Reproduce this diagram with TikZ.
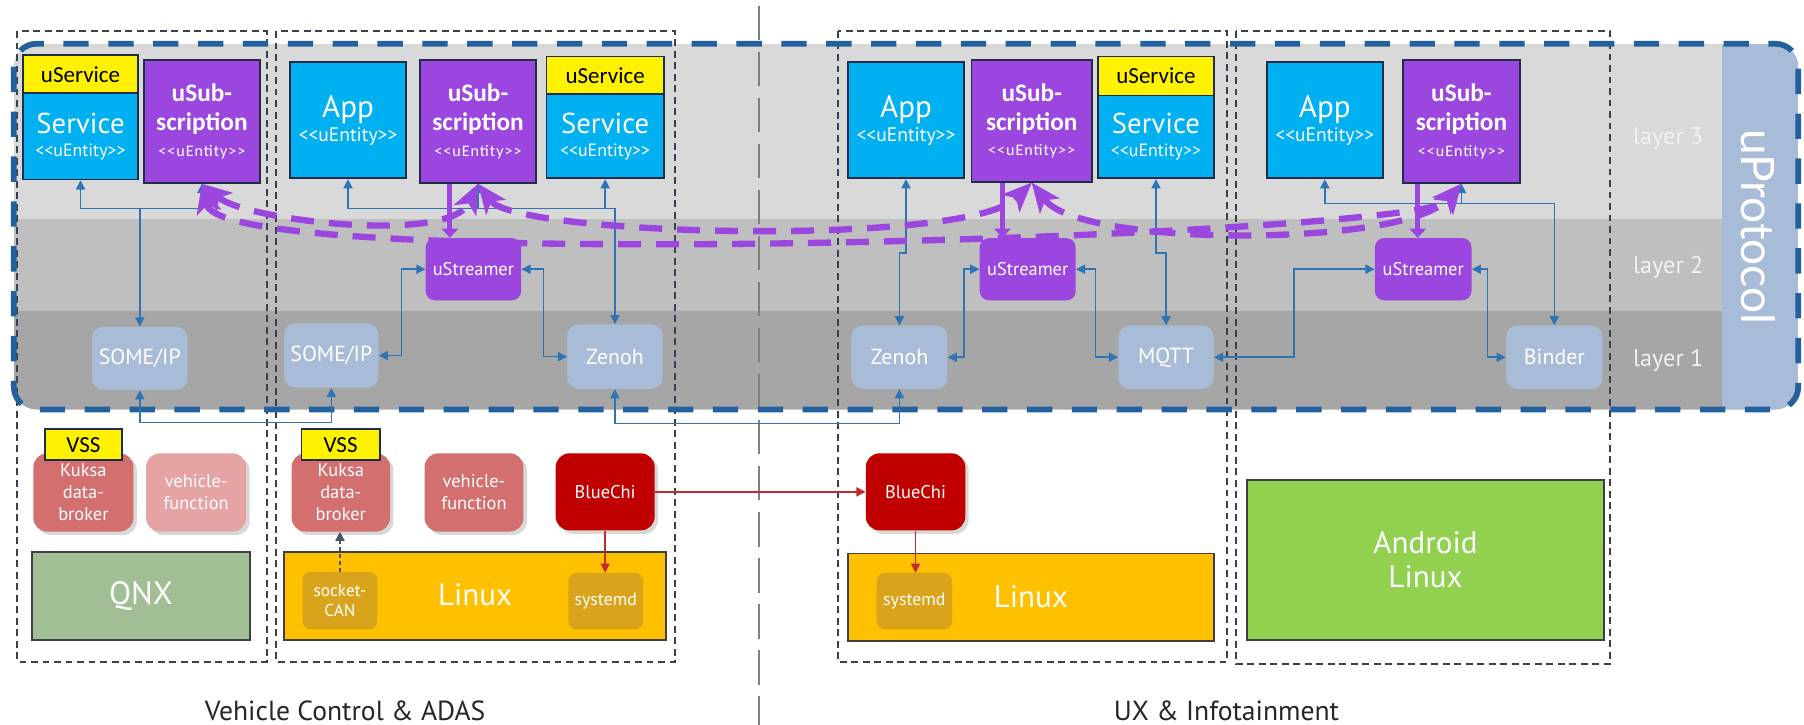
\documentclass[tikz,border=0pt]{standalone}
\usepackage{fontspec}
\setmainfont{PT Sans}
\newfontfamily\calfont{Carlito}
\newfontfamily\latofont{Lato}
\usetikzlibrary{arrows.meta,shadows,calc}
\definecolor{pu}{HTML}{9B47DF}
\definecolor{cy}{HTML}{00B0F0}
\definecolor{navy}{HTML}{1F2D4A}
\definecolor{bc}{HTML}{2E75B6}
\definecolor{bd}{HTML}{23609E}
\definecolor{protoc}{HTML}{A9BCD7}
\definecolor{lay3}{HTML}{D9D9D9}
\definecolor{lay2}{HTML}{BFBFBF}
\definecolor{lay1}{HTML}{A6A6A6}
\definecolor{kuk}{HTML}{D36F6F}
\definecolor{vfl}{HTML}{E6A3A3}
\definecolor{bluechi}{HTML}{C00000}
\definecolor{redar}{HTML}{C8282D}
\definecolor{linuxc}{HTML}{FFC000}
\definecolor{goldd}{HTML}{D9A31C}
\definecolor{qnxc}{HTML}{A2BE95}
\definecolor{andc}{HTML}{92D050}
\definecolor{osb}{HTML}{3F3F46}
\definecolor{framec}{HTML}{3A404C}
\definecolor{divc}{HTML}{7F7F7F}
\definecolor{capc}{HTML}{262626}
\definecolor{sockc}{HTML}{44546A}
\definecolor{labc}{HTML}{F2F2F2}
\newcommand\fsz[2]{\fontsize{#1}{#2}\selectfont}
\newcommand\ue{<{}<uEntity>{}>}
\newcommand\mkbox[7]{%
  \pgfmathsetmacro\mkX{(#3+#5)/2}%
  \pgfmathsetmacro\mkY{(#4+#6)/2}%
  \pgfmathsetmacro\mkW{#5-#3}%
  \pgfmathsetmacro\mkH{#6-#4}%
  \node[#2, minimum width=\mkW pt, minimum height=\mkH pt] (#1) at (\mkX,\mkY) {#7};}
\begin{document}
\begin{tikzpicture}[x=1pt,y=-1pt,
  >={Triangle[length=8pt,width=8pt]},
  base/.style={inner sep=0pt, align=center, text=white},
  bbox/.style={base, fill=cy, draw=navy, line width=1.5pt},
  pbox/.style={base, fill=pu, draw=navy, line width=1.5pt},
  ybox/.style={base, fill=yellow, draw=navy, line width=1.5pt, text=black},
  strm/.style={base, fill=pu, rounded corners=8pt},
  proto/.style={base, fill=protoc, rounded corners=10pt},
  shad/.style={drop shadow={opacity=0.3, shadow xshift=3pt, shadow yshift=-3pt}},
  kbox/.style={base, fill=kuk, rounded corners=12pt, shad, font=\fsz{16}{19}},
  osbox/.style={base, draw=osb, line width=1.5pt},
  sbox/.style={base, fill=goldd, rounded corners=7pt},
  frame/.style={draw=framec, line width=1.8pt, dash pattern=on 6pt off 4pt},
  bl/.style={draw=bc, line width=1.3pt},
  rd/.style={draw=redar, line width=1.4pt},
  svcf/.style={font=\fsz{25}{24}},
  appf/.style={font=\fsz{27}{24}},
  subf/.style={font=\calfont\bfseries\fsz{22}{25}},
  pua/.style={draw=pu, line width=4.5pt, -{Triangle[length=8pt,width=14pt]}},
  parc/.style={draw=pu, line width=5.5pt, dash pattern=on 20pt off 13pt,
     {Stealth[length=26pt,width=22pt,inset=7pt,line width=0.5pt]}-{Stealth[length=26pt,width=22pt,inset=7pt,line width=0.5pt]}},
  ]
\useasboundingbox (0,0) rectangle (1568,630);
\fill[white] (0,0) rectangle (1568,630);
% layer backgrounds
\begin{scope}
\clip[rounded corners=20pt] (12,38) rectangle (1563,356);
\fill[lay3] (12,38) rectangle (1497,190);
\fill[lay2] (12,190) rectangle (1497,270);
\fill[lay1] (12,270) rectangle (1497,356);
\fill[protoc] (1497,38) rectangle (1563,356);
\end{scope}
% zone frames and divider
\draw[frame] (15,27) rectangle (232,575);
\draw[frame] (240,27) rectangle (587,575);
\draw[frame] (728,27) rectangle (1066.5,575);
\draw[frame] (1074,27) rectangle (1399.5,577);
\draw[divc, line width=2.2pt, dash pattern=on 30pt off 10pt] (659.5,5) -- (659.5,630);
\draw[bd, line width=5pt, dash pattern=on 22pt off 17pt, rounded corners=20pt] (12,38) rectangle (1563,356);
% labels
\node[text=labc, font=\fsz{21}{24}] (l3) at (1450,120) {layer 3};
\node[text=labc, font=\fsz{21}{24}] (l2) at (1450,232) {layer 2};
\node[text=labc, font=\fsz{21}{24}] (l1) at (1450,313) {layer 1};
\node[text=white, font=\latofont\fsz{40}{44}, rotate=-90] (upr) at (1528,197) {uProtocol};
% layer 3 boxes
\mkbox{svc1}{bbox,svcf}{20}{81}{120}{156}{Service\\[-4pt]\fsz{15.5}{16}\ue}
\mkbox{us1}{ybox}{20}{48}{120}{81}{\calfont\fsz{20}{22}uService}
\mkbox{sub1}{pbox,subf}{125}{52}{226}{159}{uSub-\\scription\\[-3pt]\mdseries\addfontfeature{LetterSpace=6}\fsz{14}{22}\ue}
\mkbox{app2}{bbox,appf}{252}{54}{353}{155}{App\\[-3pt]\fsz{17}{18}\ue}
\mkbox{sub2}{pbox,subf}{365}{52}{466}{159}{uSub-\\scription\\[-3pt]\mdseries\addfontfeature{LetterSpace=6}\fsz{14}{22}\ue}
\mkbox{svc2}{bbox,svcf}{475}{82}{577}{155}{Service\\[-4pt]\fsz{15.5}{16}\ue}
\mkbox{us2}{ybox}{475}{49}{577}{82}{\calfont\fsz{20}{22}uService}
\mkbox{app3}{bbox,appf}{737}{54}{838}{155}{App\\[-3pt]\fsz{17}{18}\ue}
\mkbox{sub3}{pbox,subf}{844.5}{52}{949}{158}{uSub-\\scription\\[-3pt]\mdseries\addfontfeature{LetterSpace=6}\fsz{14}{22}\ue}
\mkbox{svc3}{bbox,svcf}{954.5}{83}{1055}{155}{Service\\[-4pt]\fsz{15.5}{16}\ue}
\mkbox{us3}{ybox}{954.5}{49}{1055}{83}{\calfont\fsz{20}{22}uService}
\mkbox{app4}{bbox,appf}{1101}{54}{1202}{155}{App\\[-3pt]\fsz{17}{18}\ue}
\mkbox{sub4}{pbox,subf}{1219.5}{52}{1321}{159}{uSub-\\scription\\[-3pt]\mdseries\addfontfeature{LetterSpace=6}\fsz{14}{22}\ue}
% layer 2
\mkbox{str1}{strm}{370}{207}{453}{261}{\fsz{16}{18}uStreamer}
\mkbox{str2}{strm}{851.5}{207}{935}{261}{\fsz{16}{18}uStreamer}
\mkbox{str3}{strm}{1195}{207}{1279}{261}{\fsz{16}{18}uStreamer}
% layer 1
\mkbox{some1}{proto}{80}{284}{163}{339}{\fsz{19}{22}SOME/IP}
\mkbox{some2}{proto}{247}{281}{329}{337}{\fsz{19}{22}SOME/IP}
\mkbox{zen1}{proto}{493}{282}{576}{338}{\fsz{19}{22}Zenoh}
\mkbox{zen2}{proto}{740}{283}{823.5}{338}{\fsz{19}{22}Zenoh}
\mkbox{mqtt}{proto}{972}{283}{1055}{338}{\fsz{19}{22}MQTT}
\mkbox{bind}{proto}{1309}{283}{1393}{338}{\fsz{19}{22}Binder}
% bottom
\mkbox{kuk1}{kbox}{29}{394}{116}{462}{Kuksa\\data-\\broker}
\mkbox{vss1}{ybox}{39}{373}{106}{400}{\calfont\fsz{20}{22}VSS}
\mkbox{vf1}{kbox, fill=vfl}{127}{394}{214}{462}{vehicle-\\function}
\mkbox{qnx}{osbox, fill=qnxc}{28}{480}{217}{556}{\fsz{28}{30}QNX}
\mkbox{kuk2}{kbox}{253.5}{394}{339}{462}{Kuksa\\data-\\broker}
\mkbox{vss2}{ybox}{262}{373}{330}{400}{\calfont\fsz{20}{22}VSS}
\mkbox{vf2}{kbox}{369}{394}{455}{462}{vehicle-\\function}
\mkbox{blue1}{kbox, fill=bluechi}{483}{394}{569}{461}{BlueChi}
\mkbox{lin1}{osbox, fill=linuxc}{247}{480}{579}{556}{}
\node[text=white, font=\fsz{27}{30}] (lin1t) at (413,517) {Linux};
\mkbox{sock}{sbox, font=\fsz{15}{18}}{263}{497}{328}{547}{socket-\\CAN}
\mkbox{sysd1}{sbox}{494}{498}{559}{547}{\fsz{15.5}{18}systemd}
\mkbox{blue2}{kbox, fill=bluechi}{752.5}{394}{839}{461}{BlueChi}
\mkbox{lin2}{osbox, fill=linuxc}{737}{481}{1055}{557}{}
\node[text=white, font=\fsz{27}{30}] (lin2t) at (896,519) {Linux};
\mkbox{sysd2}{sbox}{762}{498}{827.5}{547}{\fsz{15.5}{18}systemd}
\mkbox{andr}{osbox, fill=andc, font=\fsz{27}{29}}{1084}{417}{1394}{556}{Android\\Linux}
% captions
\node[text=capc, font=\fsz{24}{26}] (cap1) at (300,618) {Vehicle Control \& ADAS};
\node[text=capc, font=\fsz{24}{26}] (cap2) at (1066,618) {UX \& Infotainment};
% blue connectors
\coordinate (jy) at (0,181);
\coordinate (jyD) at (0,177);
\draw[bl,->] (some1.north |- jy) -- (some1.north);
\draw[bl,<->] (svc1.south) -- (svc1.south |- jy) -- (sub1.south |- jy) -- (sub1.south);
\draw[bl,<->] (app2.south) -- (app2.south |- jy) -- (zen1.north |- jy) -- (zen1.north);
\draw[bl,->] (sub2.south |- jy) -- (sub2.south);
\draw[bl,->] (svc2.south |- jy) -- (svc2.south);
\draw[bl,<->] (str1.west) -- ++(-21,0) |- (some2.east);
\draw[bl,<->] (str1.east) -- ++(19,0) |- (zen1.west);
\draw[bl,<->] (app3.south) -- ++(0,64) -| (zen2.north);
\draw[bl,<->] (svc3.south) -- ++(0,64) -| (mqtt.north);
\draw[bl,<->] (str2.west) -- ++(-13.5,0) |- (zen2.east);
\draw[bl,<->] (str2.east) -- ++(17,0) |- (mqtt.west);
\draw[bl,<->] (str3.west) -- ++(-70,0) |- (mqtt.east);
\draw[bl,<->] (str3.east) -- ++(13.5,0) |- (bind.west);
\draw[bl,<->] (app4.south) -- (app4.south |- jyD) -| (bind.north);
\draw[bl,->] (sub4.south |- jyD) -- (sub4.south);
\draw[bl,<->] (some1.south) -- ++(0,28) -| (some2.south);
\draw[bl,<->] (zen1.south) -- ++(0,30) -| (zen2.south);
% red / dark connectors
\draw[rd,->] (blue1.east) -- (blue2.west);
\draw[rd,->] (blue1.south) -- (blue1.south |- sysd1.north);
\draw[rd,->] (blue2.south) -- (blue2.south |- sysd2.north);
\draw[draw=sockc, line width=1.3pt, dashed, ->] (sock.north) -- (sock.north |- kuk2.south);
% purple solid
\draw[pua] ([xshift=-24.5pt]sub2.south) -- ([xshift=-24.5pt]sub2.south |- str1.north);
\draw[pua] ([xshift=-25.5pt]sub3.south) -- ([xshift=-25.5pt]sub3.south |- str2.north);
\draw[pua] ([xshift=-38pt]sub4.south) -- ([xshift=-38pt]sub4.south |- str3.north);
% purple dashed arcs
\draw[parc] (sub1.south) .. controls (215,192) and (390,212) .. (sub2.south);
\draw[parc] (sub1.south) .. controls (195,240) and (1235,205) .. (sub4.south);
\draw[parc] (sub2.south) .. controls (450,205) and (840,215) .. (sub3.south);
\draw[parc] (sub3.south) .. controls (940,215) and (1220,215) .. (sub4.south);
\end{tikzpicture}
\end{document}
